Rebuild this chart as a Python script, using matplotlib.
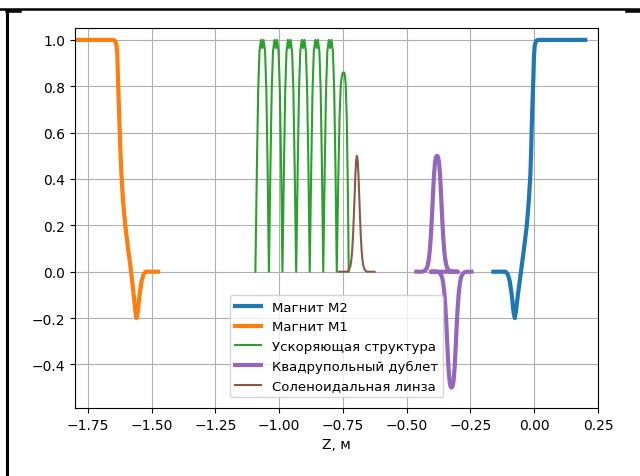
import matplotlib
matplotlib.use("Agg")
import matplotlib.pyplot as plt
from matplotlib.lines import Line2D

# поле магнита М1 (нормированное)
m1_z = [-1.800, -1.650, -1.642, -1.637, -1.634, -1.632, -1.629, -1.626, -1.622,
        -1.618, -1.612, -1.603, -1.592, -1.580, -1.570, -1.564, -1.559, -1.554,
        -1.547, -1.539, -1.531, -1.522, -1.474]
m1_b = [1.0, 1.0, 0.995, 0.975, 0.93, 0.85, 0.75, 0.65, 0.52,
        0.42, 0.31, 0.20, 0.10, 0.00, -0.10, -0.165, -0.20, -0.175,
        -0.10, -0.04, -0.01, 0.0, 0.0]

# поле магнита М2
m2_z = [-0.160, -0.113, -0.104, -0.096, -0.088, -0.081, -0.076, -0.071, -0.064,
        -0.052, -0.040, -0.029, -0.021, -0.015, -0.012, -0.009, -0.006, -0.003,
        -0.001, 0.002, 0.007, 0.015, 0.200]
m2_b = [0.0, 0.0, -0.01, -0.04, -0.10, -0.175, -0.20, -0.165, -0.10,
        0.0, 0.10, 0.20, 0.31, 0.42, 0.52, 0.65, 0.75, 0.85,
        0.93, 0.975, 0.995, 1.0, 1.0]

# ускоряющая структура, по ячейкам
acc_z = [-1.093, -1.087, -1.082, -1.077, -1.071, -1.066, -1.061, -1.055, -1.050, -1.045,
         -1.040, -1.034, -1.029, -1.024, -1.018, -1.013, -1.008, -1.002, -0.997, -0.992,
         -0.987, -0.981, -0.976, -0.971, -0.965, -0.960, -0.955, -0.949, -0.944, -0.939,
         -0.933, -0.927, -0.922, -0.917, -0.911, -0.906, -0.901, -0.895, -0.890, -0.885,
         -0.880, -0.874, -0.869, -0.864, -0.858, -0.853, -0.848, -0.842, -0.837, -0.832,
         -0.827, -0.821, -0.816, -0.811, -0.805, -0.800, -0.795, -0.789, -0.784, -0.779,
         -0.774, -0.768, -0.763, -0.758, -0.752, -0.747, -0.743, -0.739, -0.735, -0.731,
         -0.727]
acc_e = [0.0, 0.45, 0.78, 0.95, 1.0, 0.965, 1.0, 0.95, 0.78, 0.45,
         0.0, 0.45, 0.78, 0.95, 1.0, 0.965, 1.0, 0.95, 0.78, 0.45,
         0.0, 0.45, 0.78, 0.95, 1.0, 0.965, 1.0, 0.95, 0.78, 0.45,
         0.0, 0.45, 0.78, 0.95, 1.0, 0.965, 1.0, 0.95, 0.78, 0.45,
         0.0, 0.45, 0.78, 0.95, 1.0, 0.965, 1.0, 0.95, 0.78, 0.45,
         0.0, 0.45, 0.78, 0.95, 1.0, 0.965, 1.0, 0.95, 0.78, 0.45,
         0.0, 0.40, 0.67, 0.81, 0.855, 0.86, 0.855, 0.81, 0.67, 0.40,
         0.0]

# квадрупольный дублет: первая линза, затем вторая
quad_z = [-0.462, -0.440, -0.431, -0.426, -0.421, -0.417, -0.413, -0.409, -0.405, -0.401,
          -0.397, -0.393, -0.389, -0.385, -0.381, -0.377, -0.373, -0.369, -0.365, -0.361,
          -0.357, -0.353, -0.349, -0.345, -0.341, -0.336, -0.331, -0.321, -0.300,
          -0.405, -0.383, -0.374, -0.369, -0.364, -0.360, -0.356, -0.352, -0.348, -0.344,
          -0.340, -0.336, -0.332, -0.328, -0.324, -0.320, -0.316, -0.312, -0.308, -0.304,
          -0.300, -0.296, -0.292, -0.288, -0.284, -0.279, -0.274, -0.264, -0.246]
quad_g = [0.0, 0.0, 0.003, 0.007, 0.016, 0.03, 0.055, 0.095, 0.155, 0.235,
          0.33, 0.415, 0.47, 0.495, 0.5, 0.495, 0.47, 0.415, 0.33, 0.235,
          0.155, 0.095, 0.055, 0.03, 0.016, 0.007, 0.003, 0.0, 0.0,
          0.0, 0.0, -0.003, -0.007, -0.016, -0.03, -0.055, -0.095, -0.155, -0.235,
          -0.33, -0.415, -0.47, -0.495, -0.5, -0.495, -0.47, -0.415, -0.33, -0.235,
          -0.155, -0.095, -0.055, -0.03, -0.016, -0.007, -0.003, 0.0, 0.0]

# соленоидальная линза
sol_z = [-0.766, -0.735, -0.730, -0.725, -0.720, -0.716, -0.713, -0.710, -0.707, -0.704,
         -0.701, -0.698, -0.695, -0.692, -0.689, -0.686, -0.683, -0.680, -0.677, -0.674,
         -0.670, -0.665, -0.660, -0.655, -0.626]
sol_b = [0.0, 0.0, 0.003, 0.01, 0.027, 0.058, 0.10, 0.16, 0.24, 0.33,
         0.42, 0.48, 0.5, 0.48, 0.42, 0.33, 0.24, 0.16, 0.10, 0.058,
         0.027, 0.01, 0.003, 0.0, 0.0]

W, H = 640, 477
fig = plt.figure(figsize=(W / 100, H / 100), dpi=100)
ax = fig.add_axes([75 / W, 1 - 409 / H, (598 - 75) / W, (409 - 28.6) / H])

ax.plot(m2_z, m2_b, color="tab:blue", lw=3, label="Магнит М2")
ax.plot(m1_z, m1_b, color="tab:orange", lw=3, label="Магнит М1")
ax.plot(acc_z, acc_e, color="tab:green", lw=1.5, label="Ускоряющая структура")
ax.plot(quad_z, quad_g, color="tab:purple", lw=3, label="Квадрупольный дублет")
ax.plot(sol_z, sol_b, color="tab:brown", lw=1.5, label="Соленоидальная линза")

ax.set_xlim(-1.8, 0.25)
ax.set_ylim(-0.588, 1.053)
ax.set_xlabel("Z, м")
ax.grid(True)
ax.legend(loc="lower center", fontsize=9.5, borderaxespad=0.8)

# рамка ячейки документа
def px_line(xs, ys, lw):
    fig.add_artist(Line2D([x / W for x in xs], [1 - y / H for y in ys],
                          transform=fig.transFigure, color="black", lw=lw))

px_line([0, 640], [10, 10], 1.8)
px_line([7, 7], [11, 477], 2.2)
px_line([6, 20], [12, 12], 1.8)
px_line([626, 640], [12, 12], 1.8)

fig.savefig("out.png", dpi=100)
